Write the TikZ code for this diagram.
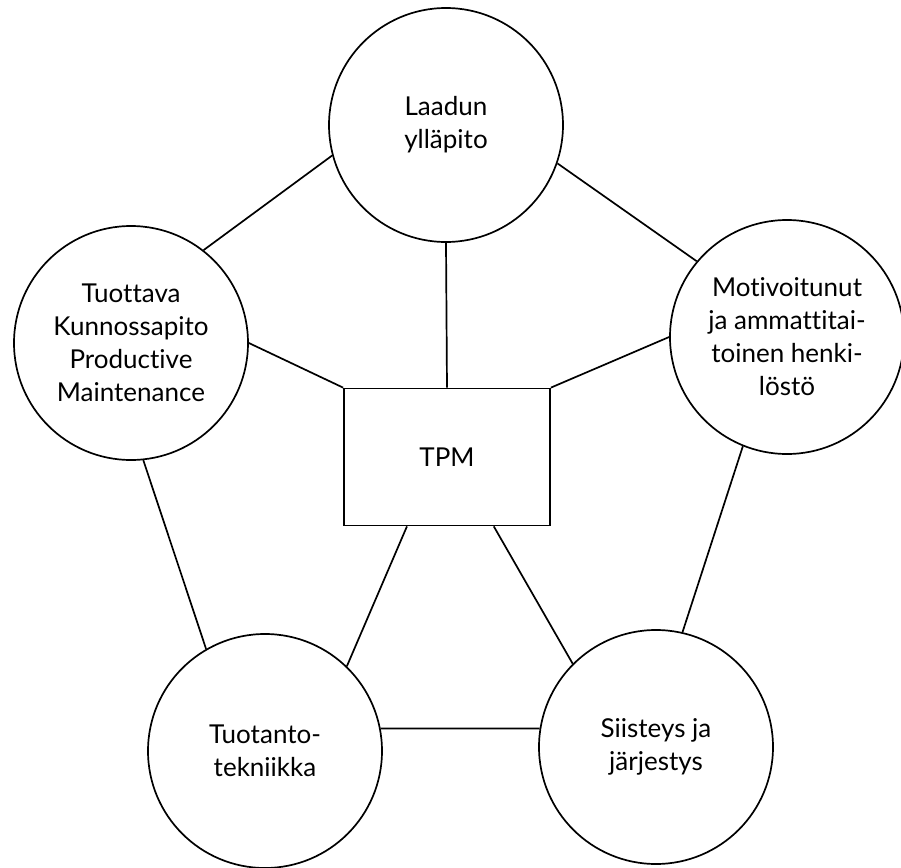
\documentclass[tikz,border=0pt]{standalone}
\usepackage{fontspec}
\setmainfont{Lato}[Ligatures=NoCommon]

\begin{document}
\begin{tikzpicture}[x=0.5pt,y=0.5pt,yscale=-1,xscale=1,
	every node/.style={font=\fontsize{13}{16.5}\selectfont,align=center},
	ympyra/.style={draw,circle,line width=0.85pt,minimum size=117pt,inner sep=0pt},
	laatikko/.style={draw,rectangle,line width=0.85pt,minimum width=103pt,minimum height=68.5pt,inner sep=0pt},
	viiva/.style={line width=0.85pt}]

	\useasboundingbox (0,0) rectangle (901,868);

	\draw (446,125) node [ympyra] (laatu) {Laadun\\ylläpito};
	\draw (131,343) node [ympyra] (kunto) {Tuottava\\Kunnossapito\\Productive\\Maintenance};
	\draw (787,337) node [ympyra] (henki) {Motivoitunut\\ja ammattitai-\\toinen henki-\\löstö};
	\draw (265,751) node [ympyra] (tekn) {Tuotanto-\\tekniikka};
	\draw (656,747) node [ympyra] (siist) {Siisteys ja\\järjestys};
	\draw (447,457) node [laatikko] (tpm) {TPM};

	\draw [viiva] (kunto.52) -- (laatu.195);
	\draw [viiva] (laatu.-19) -- (henki.140);
	\draw [viiva] (laatu.south) -- (tpm.north);
	\draw [viiva] (kunto.east) -- (tpm.north west);
	\draw [viiva] (henki.west) -- (tpm.north east);
	\draw [viiva] (kunto.-84) -- (tekn.120);
	\draw [viiva] (henki.-112) -- (siist.77);
	\draw [viiva] (tpm.-120) -- (tekn.46);
	\draw [viiva] (tpm.-56) -- (siist.135);
	\draw [viiva] (tekn.11) -- (siist.171);

\end{tikzpicture}
\end{document}
